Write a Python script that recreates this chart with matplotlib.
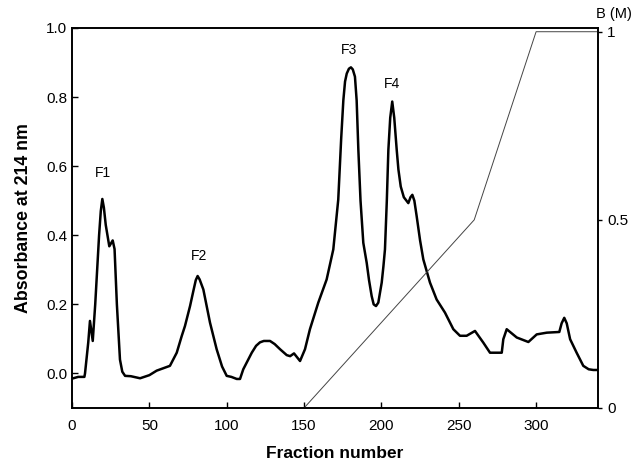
import matplotlib
matplotlib.use("Agg")
import matplotlib.pyplot as plt

plt.rcParams['font.family'] = ['Liberation Sans', 'DejaVu Sans']

# absorbance trace
fraction = [0, 4, 8, 8.4, 10.5, 11.6, 13.4, 15, 17.5, 18.6, 19.6, 20.6, 21.8, 24.1,
            26.3, 27.5, 29, 31, 32.5, 34.3, 38, 44, 50, 54.7, 59, 63.3, 67.7, 70.9,
            73, 76.3, 78.5, 80, 81.2, 82.5, 84.9, 89.2, 93.5, 97, 100, 103, 106.5,
            108.6, 110.7, 116.2, 119, 121.5, 124, 128, 131, 134.5, 138.8, 141,
            143.5, 147.4, 150.6, 153.8, 159.2, 164.6, 168.9, 172.1, 174, 175.4,
            176.5, 177.6, 179, 180.3, 181.5, 182.9, 184, 185.1, 186.5, 188.3,
            190.5, 192, 193.7, 195, 196.5, 198, 200.2, 201.3, 202.3, 203.5, 204.5,
            205.7, 207, 208.3, 209.9, 211, 212.5, 214.5, 217.4, 218.8, 220, 221.3,
            222.8, 225, 227.1, 231.4, 235.7, 241.1, 246.5, 250.8, 255.1, 260.5,
            265.9, 270.2, 277.8, 278.8, 281, 287.5, 295, 300.4, 306.9, 315, 316.5,
            318.2, 319.8, 322, 326.2, 330.5, 334, 337, 340]
absorb = [-0.015, -0.01, -0.01, 0.0, 0.09, 0.152, 0.094, 0.2, 0.4, 0.47, 0.505,
          0.48, 0.43, 0.368, 0.385, 0.36, 0.2, 0.04, 0.005, -0.007, -0.008, -0.014,
          -0.005, 0.008, 0.015, 0.022, 0.06, 0.108, 0.137, 0.195, 0.24, 0.27, 0.282,
          0.272, 0.243, 0.147, 0.07, 0.02, -0.007, -0.01, -0.016, -0.016, 0.012,
          0.06, 0.08, 0.09, 0.094, 0.094, 0.085, 0.07, 0.053, 0.05, 0.058, 0.036,
          0.07, 0.128, 0.205, 0.272, 0.359, 0.503, 0.68, 0.791, 0.845, 0.868,
          0.882, 0.886, 0.88, 0.859, 0.79, 0.647, 0.5, 0.378, 0.32, 0.27, 0.224,
          0.2, 0.195, 0.205, 0.263, 0.31, 0.359, 0.5, 0.647, 0.74, 0.787, 0.74,
          0.647, 0.59, 0.541, 0.51, 0.493, 0.51, 0.517, 0.5, 0.455, 0.385, 0.33,
          0.263, 0.214, 0.176, 0.128, 0.109, 0.109, 0.123, 0.089, 0.06, 0.06,
          0.099, 0.128, 0.104, 0.091, 0.113, 0.118, 0.12, 0.145, 0.161, 0.145,
          0.099, 0.06, 0.022, 0.012, 0.01, 0.01]

# salt gradient
grad_x = [150, 260, 300, 340]
grad_b = [0, 0.5, 1.0, 1.0]

peak_names = ['F1', 'F2', 'F3', 'F4']
peak_x = [20, 82, 179, 207]
peak_y = [0.58, 0.34, 0.935, 0.838]

fig = plt.figure(figsize=(6.39, 4.66), dpi=100)
ax = fig.add_axes([0.1127, 0.1245, 0.8231, 0.8155])
ax.plot(fraction, absorb, color='black', lw=1.8)
ax.set_xlim(0, 340)
ax.set_ylim(-0.1, 1.0)
ax.set_xticks([0, 50, 100, 150, 200, 250, 300])
ax.set_yticks([0.0, 0.2, 0.4, 0.6, 0.8, 1.0])
ax.set_yticklabels(['0.0', '0.2', '0.4', '0.6', '0.8', '1.0'])
ax.tick_params(direction='in', labelsize=11, length=4, width=1)
ax.tick_params(axis='x', pad=8)
ax.set_xlabel('Fraction number', fontsize=12.5, fontweight='bold', labelpad=9)
ax.set_ylabel('Absorbance at 214 nm', fontsize=12.8, fontweight='bold', labelpad=10)
for s in ax.spines.values():
    s.set_linewidth(1.2)

for name, px, py in zip(peak_names, peak_x, peak_y):
    ax.text(px, py, name, ha='center', va='center', fontsize=10)

ax2 = ax.twinx()
ax2.plot(grad_x, grad_b, color='#444444', lw=0.7)
ax2.set_ylim(0, 1.01)
ax2.set_yticks([0, 0.5, 1])
ax2.set_yticklabels(['0', '0.5', '1'])
ax2.tick_params(direction='out', labelsize=11, length=3, width=1)
for s in ax2.spines.values():
    s.set_linewidth(1.2)
ax2.text(1.03, 1.037, 'B (M)', transform=ax2.transAxes, ha='center',
         va='center', fontsize=10.5)

fig.savefig('out.png', dpi=100)
